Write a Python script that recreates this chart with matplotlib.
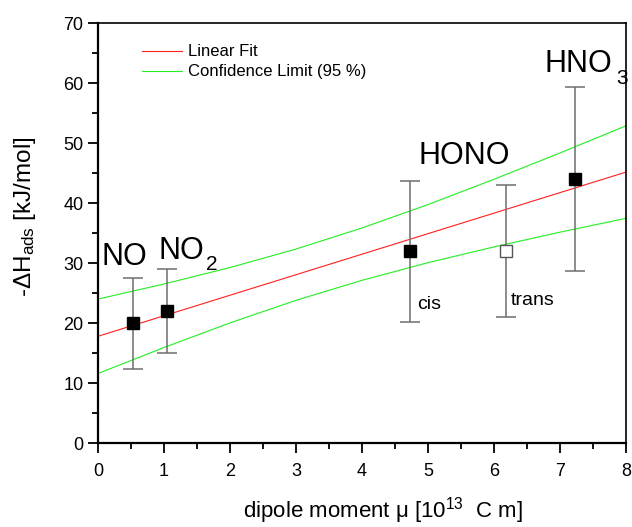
import numpy as np
import matplotlib
matplotlib.use('Agg')
import matplotlib.pyplot as plt
from matplotlib.ticker import MultipleLocator

plt.rcParams['font.family'] = ['Liberation Sans', 'DejaVu Sans']
plt.rcParams['mathtext.fontset'] = 'custom'
plt.rcParams['mathtext.rm'] = 'Liberation Sans'
plt.rcParams['mathtext.it'] = 'Liberation Sans:italic'

# data points (dipole moment, -dH_ads, error)
mu_filled = [0.53, 1.05, 4.73, 7.23]
dh_filled = [20.0, 22.0, 32.0, 44.0]
err_filled = [7.6, 7.0, 11.7, 15.3]
mu_open = [6.18]
dh_open = [32.0]
err_open = [11.0]

# linear fit and 95 % confidence limits
fit_x = [0, 8]
fit_y = [17.85, 45.2]
band_x = [0, 1, 2, 3, 4, 5, 6, 7, 8]
band_hi = [24.05, 26.56, 29.30, 32.38, 35.89, 39.79, 44.0, 48.39, 52.9]
band_lo = [11.65, 15.98, 20.08, 23.84, 27.17, 30.11, 32.74, 35.19, 37.5]

fig = plt.figure(figsize=(6.32, 5.27), dpi=100)
ax = fig.add_axes([0.155, 0.1585, 0.8355, 0.7975])

ax.plot(fit_x, fit_y, color='#ff2020', lw=0.8, label='Linear Fit')
ax.plot(band_x, band_hi, color='#22ee22', lw=0.8, label='Confidence Limit (95 %)')
ax.plot(band_x, band_lo, color='#22ee22', lw=0.8)

ax.errorbar(mu_filled, dh_filled, yerr=err_filled, fmt='s', color='black',
            ms=8, ecolor='#6e6e6e', elinewidth=1.1, capsize=7, capthick=1.1, zorder=3)
ax.errorbar(mu_open, dh_open, yerr=err_open, fmt='s', mfc='white', mec='#555555',
            ms=8, ecolor='#6e6e6e', elinewidth=1.1, capsize=7, capthick=1.1, zorder=3)

# species labels with big, low subscripts
ax.text(0.05, 29.7, 'NO', fontsize=22)
ax.text(0.92, 30.7, 'NO', fontsize=22)
ax.text(1.63, 28.9, '2', fontsize=15)
ax.text(4.85, 46.5, 'HONO', fontsize=22)
ax.text(6.76, 61.8, 'HNO', fontsize=22)
ax.text(7.85, 59.8, '3', fontsize=15)
ax.text(4.84, 22.4, 'cis', fontsize=14)
ax.text(6.26, 23.0, 'trans', fontsize=14)

ax.set_xlim(0, 8)
ax.set_ylim(0, 70)
ax.xaxis.set_major_locator(MultipleLocator(1))
ax.xaxis.set_minor_locator(MultipleLocator(0.5))
ax.yaxis.set_major_locator(MultipleLocator(10))
ax.yaxis.set_minor_locator(MultipleLocator(5))
ax.tick_params(which='major', direction='out', length=7, width=1.3, labelsize=13)
ax.tick_params(axis='x', which='major', pad=7)
ax.tick_params(which='minor', direction='out', length=4, width=1.3)
ax.spines['left'].set_linewidth(1.6)
ax.spines['bottom'].set_linewidth(1.6)
ax.spines['top'].set_linewidth(1.2)
ax.spines['right'].set_linewidth(1.2)

ax.set_xlabel(r'dipole moment μ [10$^{13}$  C m]', fontsize=16)
ax.xaxis.set_label_coords(0.54, -0.124)
ax.set_ylabel(r'-$\Delta$H$_{\rm ads}$ [kJ/mol]', fontsize=17.5)
ax.yaxis.set_label_coords(-0.114, 0.54)

ax.legend(loc='upper left', bbox_to_anchor=(0.055, 0.985), frameon=False,
          fontsize=12, handlelength=2.4, handletextpad=0.35, labelspacing=0.3)

fig.savefig('out.png', dpi=100)
